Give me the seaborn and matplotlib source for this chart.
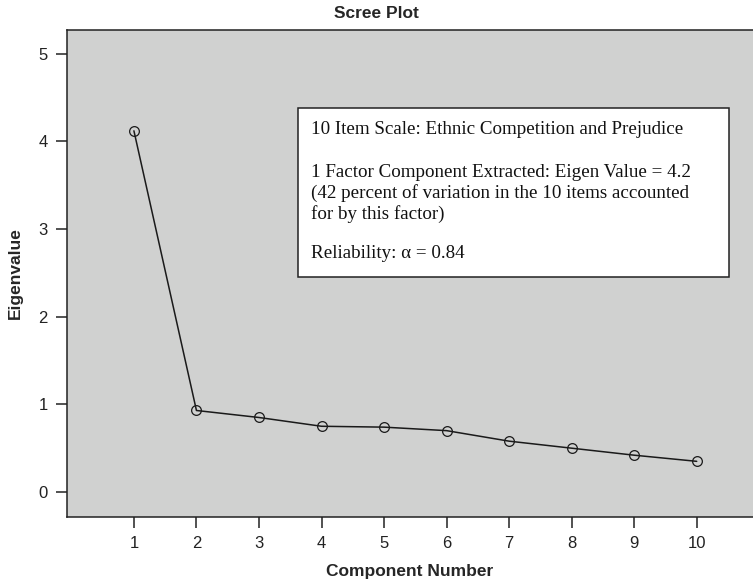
import pandas as pd
import matplotlib.pyplot as plt
import seaborn as sns
from matplotlib.patches import Rectangle

# valeurs
components = [1, 2, 3, 4, 5, 6, 7, 8, 9, 10]
eigenvalues = [4.12, 0.93, 0.85, 0.75, 0.74, 0.70, 0.58, 0.50, 0.42, 0.35]
x_ticks = [1, 2, 3, 4, 5, 6, 7, 8, 9, 10]
y_ticks = [0, 1, 2, 3, 4, 5]

note_lines = ["10 Item Scale: Ethnic Competition and Prejudice",
              "1 Factor Component Extracted: Eigen Value = 4.2\n"
              "(42 percent of variation in the 10 items accounted\n"
              "for by this factor)",
              "Reliability: \u03b1 = 0.84"]

df = pd.DataFrame({"component": components, "eigenvalue": eigenvalues})

sns.set_style("ticks")
plt.rcParams["font.family"] = ["Liberation Sans", "DejaVu Sans"]

fig = plt.figure(figsize=(7.53, 5.82), dpi=100)
ax = fig.add_axes([67 / 753, 65 / 582, 686 / 753, 487 / 582])
ax.set_facecolor("#d0d1d0")

sns.lineplot(data=df, x="component", y="eigenvalue", ax=ax, color="#1a1a1a",
             linewidth=1.1, marker="o", markersize=7, markerfacecolor="none",
             markeredgecolor="#1a1a1a", markeredgewidth=0.9)

ax.set_xlim(-0.07, 10.9)
ax.set_ylim(-0.285, 5.27)
ax.set_xticks(x_ticks)
ax.set_yticks(y_ticks)
ax.tick_params(axis="both", direction="out", length=8, width=1.1, labelsize=12,
               colors="#222222", pad=6)
for side in ["left", "bottom", "top"]:
    ax.spines[side].set_linewidth(1.1)
    ax.spines[side].set_color("#222222")
ax.spines["right"].set_visible(False)

ax.set_xlabel("Component Number", fontsize=12.5, fontweight="bold", labelpad=9)
ax.set_ylabel("Eigenvalue", fontsize=12.5, fontweight="bold", labelpad=11)
fig.suptitle("Scree Plot", fontsize=12.5, fontweight="bold", x=0.5, y=0.99)

# encadré de texte (un paragraphe par objet texte)
ax.add_patch(Rectangle((0.3367, 0.493), 0.628, 0.347, transform=ax.transAxes,
                       facecolor="white", edgecolor="#222222", linewidth=1.1, zorder=3))
for txt, ypos in zip(note_lines, [0.814, 0.724, 0.5575]):
    ax.text(0.3557, ypos, txt, transform=ax.transAxes, ha="left", va="top",
            fontsize=13.7, family=["Liberation Serif", "DejaVu Serif"], color="#111111",
            linespacing=1.2, zorder=4)

plt.savefig("out.png", dpi=100)
